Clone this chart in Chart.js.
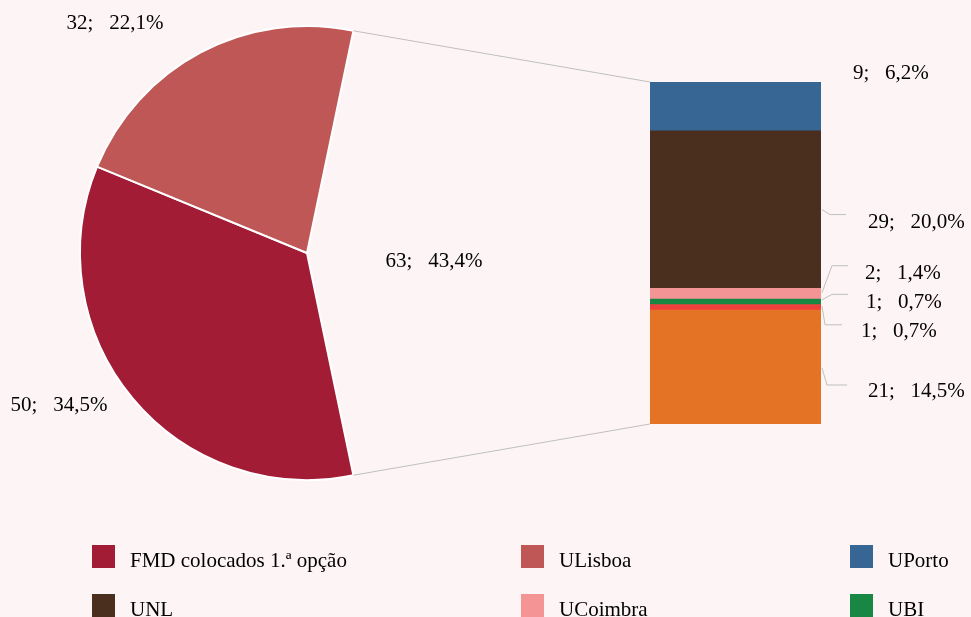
<!DOCTYPE html>
<html>
<head>
<meta charset="utf-8">
<script src="https://cdn.jsdelivr.net/npm/chart.js@4/dist/chart.umd.min.js"></script>
<style>
  html, body { margin: 0; padding: 0; background: #FDF5F5; }
  #wrap { position: relative; width: 971px; height: 617px; overflow: hidden; background: #FDF5F5; }
  #wrap canvas { position: absolute; left: 0; top: 0; }
</style>
</head>
<body>
<div id="wrap">
  <canvas id="pie" width="971" height="617"></canvas>
  <canvas id="bar" width="971" height="617"></canvas>
</div>
<script>
// ---------- DATA ----------
const pieLabels = ['Outras universidades', 'FMD colocados 1.ª opção', 'ULisboa'];
const pieValues = [63, 50, 32];

// stacked bar (bottom -> top), breakdown of "Outras universidades"
const barLabels = ['Outras', 'UMinho', 'UBI', 'UCoimbra', 'UNL', 'UPorto'];
const barValues = [21, 1, 1, 2, 29, 9];

// legend order
const legendLabels = ['FMD colocados 1.ª opção', 'ULisboa', 'UPorto', 'UNL', 'UCoimbra', 'UBI', 'UMinho', 'Outras'];

// ---------- STYLE ----------
const BG = '#FDF5F5';
const colorMap = {
  'Outras universidades': BG,
  'FMD colocados 1.ª opção': '#A21C36',
  'ULisboa': '#BE5756',
  'UPorto': '#376594',
  'UNL': '#4A2F1F',
  'UCoimbra': '#F49494',
  'UBI': '#178743',
  'UMinho': '#EE403A',
  'Outras': '#E57325'
};
const FONT = '21px "Liberation Serif", "Times New Roman", serif';
const LINE = '#BFBFBF';

// label offsets for pie labels, relative to pie centre (px)
const pieLabelOffsets = [[127, 8], [-248, 152], [-192, -230]];
// bar label offsets relative to (bar right edge, segment middle); text left aligned
const barLabelOffsets = [[47, 24], [40, 24.5], [45, 0.5], [44, -20.5], [47, 13], [32, -32.5]];
// leader lines relative to (bar right edge, segment middle)
const barLeaders = [
  [[1, 1], [6, 18], [26, 18]],
  [[1, -1], [4, 17.5], [21, 17.5]],
  [[1, -2], [11, -7.5], [27, -7.5]],
  [[1, -1], [11, -28], [27, -28]],
  [[1, 0], [9, 5], [25, 5]],
  null
];
const legendCols = [92, 521, 850];
const legendRowTop = 545, legendRowStep = 49, legendBox = 23, legendTextDx = 38;

const total = pieValues.reduce((a, b) => a + b, 0);
const fmtPct = v => (v / total * 100).toFixed(1).replace('.', ',') + '%';
const fmtLabel = v => v + ';   ' + fmtPct(v);

// ---------- PIE ----------
const pieLabelPlugin = {
  id: 'pieLabels',
  afterDatasetsDraw(chart) {
    const ctx = chart.ctx;
    const arcs = chart.getDatasetMeta(0).data;
    ctx.save();
    ctx.font = FONT;
    ctx.fillStyle = '#000';
    ctx.textAlign = 'center';
    ctx.textBaseline = 'middle';
    arcs.forEach((a, i) => {
      const o = pieLabelOffsets[i];
      ctx.fillText(fmtLabel(pieValues[i]), a.x + o[0], a.y + o[1]);
    });
    // legend
    ctx.textAlign = 'left';
    ctx.textBaseline = 'alphabetic';
    legendLabels.forEach((lab, i) => {
      const col = i % 3, row = Math.floor(i / 3);
      const x = legendCols[col], y = legendRowTop + row * legendRowStep;
      ctx.fillStyle = colorMap[lab];
      ctx.fillRect(x, y, legendBox, legendBox);
      ctx.fillStyle = '#000';
      ctx.fillText(lab, x + legendTextDx, y + 22);
    });
    ctx.restore();
  }
};

const otherShare = pieValues[0] / total;
const pieChart = new Chart(document.getElementById('pie'), {
  type: 'pie',
  data: {
    labels: pieLabels,
    datasets: [{
      data: pieValues,
      backgroundColor: pieLabels.map(l => colorMap[l]),
      borderColor: [BG, '#FFFFFF', '#FFFFFF'],
      borderWidth: [0, 2, 2],
      hoverOffset: 0
    }]
  },
  options: {
    responsive: false,
    animation: false,
    events: [],
    rotation: 90 - otherShare * 180,
    layout: { padding: { left: 79, top: 25, right: 436, bottom: 136 } },
    plugins: { legend: { display: false }, tooltip: { enabled: false } }
  },
  plugins: [pieLabelPlugin]
});

// ---------- BAR ----------
const barPlugin = {
  id: 'barExtras',
  afterDatasetsDraw(chart) {
    const ctx = chart.ctx;
    const other = pieChart.getDatasetMeta(0).data[0];
    const topEl = chart.getDatasetMeta(barValues.length - 1).data[0];
    const botEl = chart.getDatasetMeta(0).data[0];
    const left = topEl.x - topEl.width / 2;
    const right = topEl.x + topEl.width / 2;
    ctx.save();
    ctx.strokeStyle = LINE;
    ctx.lineWidth = 1;
    // connector lines
    ctx.beginPath();
    ctx.moveTo(other.x + other.outerRadius * Math.cos(other.startAngle), other.y + other.outerRadius * Math.sin(other.startAngle));
    ctx.lineTo(left, topEl.y);
    ctx.moveTo(other.x + other.outerRadius * Math.cos(other.endAngle), other.y + other.outerRadius * Math.sin(other.endAngle));
    ctx.lineTo(left, botEl.base);
    ctx.stroke();
    // labels and leaders
    ctx.font = FONT;
    ctx.fillStyle = '#000';
    ctx.textAlign = 'left';
    ctx.textBaseline = 'middle';
    barValues.forEach((v, i) => {
      const el = chart.getDatasetMeta(i).data[0];
      const mid = (el.y + el.base) / 2;
      const ld = barLeaders[i];
      if (ld) {
        ctx.beginPath();
        ctx.moveTo(right + ld[0][0], mid + ld[0][1]);
        for (let k = 1; k < ld.length; k++) ctx.lineTo(right + ld[k][0], mid + ld[k][1]);
        ctx.stroke();
      }
      const o = barLabelOffsets[i];
      ctx.fillText(fmtLabel(v), right + o[0], mid + o[1]);
    });
    ctx.restore();
  }
};

const barTotal = barValues.reduce((a, b) => a + b, 0);
new Chart(document.getElementById('bar'), {
  type: 'bar',
  data: {
    labels: ['Outras universidades'],
    datasets: barLabels.map((n, i) => ({
      label: n,
      data: [barValues[i]],
      backgroundColor: colorMap[n],
      borderWidth: 0,
      barPercentage: 1,
      categoryPercentage: 1
    }))
  },
  options: {
    responsive: false,
    animation: false,
    events: [],
    layout: { padding: { left: 650, right: 150, top: 82, bottom: 193 } },
    scales: {
      x: { display: false, stacked: true },
      y: { display: false, stacked: true, min: 0, max: barTotal }
    },
    plugins: { legend: { display: false }, tooltip: { enabled: false } }
  },
  plugins: [barPlugin]
});
</script>
</body>
</html>
